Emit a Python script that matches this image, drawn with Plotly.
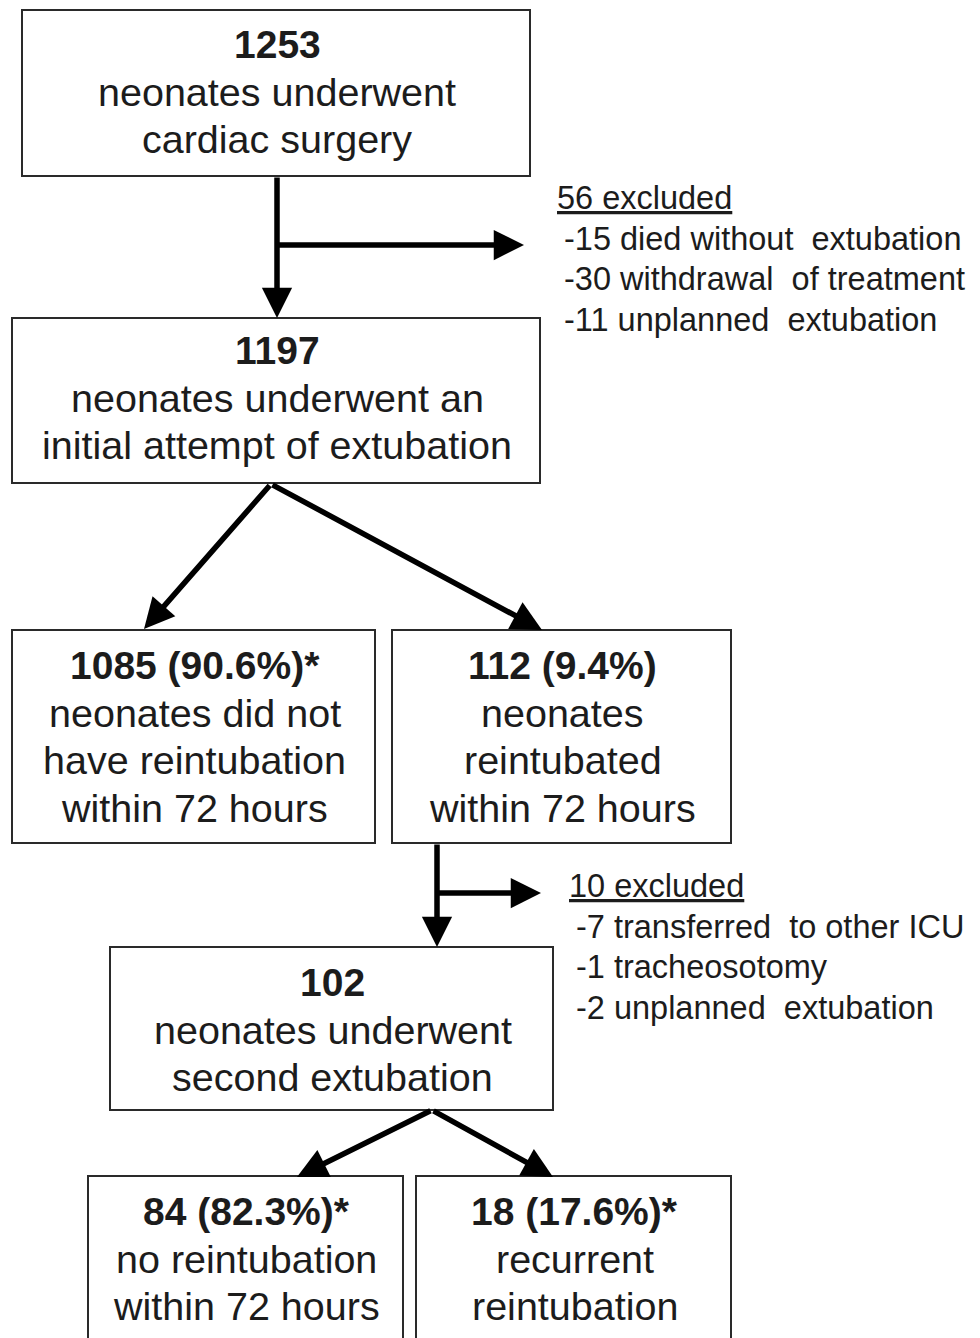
import plotly.graph_objects as go

# ---- data (flowchart content) ----
box_counts = ["1253", "1197", "1085 (90.6%)*", "112 (9.4%)", "102", "84 (82.3%)*", "18 (17.6%)*"]
box_texts = [
    ["neonates underwent", "cardiac surgery"],
    ["neonates underwent an", "initial attempt of extubation"],
    ["neonates did not", "have reintubation", "within 72 hours"],
    ["neonates", "reintubated", "within 72 hours"],
    ["neonates underwent", "second extubation"],
    ["no reintubation", "within 72 hours"],
    ["recurrent", "reintubation"],
]
excl_headers = ["56 excluded", "10 excluded"]
excl_items = [
    ["-15 died without  extubation", "-30 withdrawal  of treatment", "-11 unplanned  extubation"],
    ["-7 transferred  to other ICU", "-1 tracheosotomy", "-2 unplanned  extubation"],
]

# ---- layout (pixel geometry) ----
boxes = [  # x0, y0, x1, y1, first-line center y
    (22, 10, 530, 176, 44),
    (12, 318, 540, 483, 350),
    (12, 630, 375, 843, 665),
    (392, 630, 731, 843, 665),
    (110, 947, 553, 1110, 982),
    (88, 1176, 403, 1360, 1211),
    (416, 1176, 731, 1360, 1211),
]
line_step = 47.5
excl_pos = [(555, 562, 198), (567, 574, 886)]
excl_step = 40.7

arrows = [  # tail x, tail y, tip x, tip y
    (277, 176, 277, 318),
    (277, 245, 524, 245),
    (271, 484, 144, 629),
    (271, 484, 542, 630),
    (437, 843, 437, 947),
    (437, 893, 541, 893),
    (432, 1110, 297, 1177),
    (432, 1110, 553, 1177),
]

FONT = "Liberation Sans, Arial, sans-serif"
TXT = "#1c1c1c"
OFF = 8  # page body margin

fig = go.Figure()
fig.add_trace(go.Scatter(x=[OFF, 980 + OFF], y=[OFF, 1338 + OFF], mode="markers",
                         marker=dict(opacity=0), hoverinfo="skip", showlegend=False))

shapes = []
annotations = []
for (x0, y0, x1, y1, ty), cnt, lines in zip(boxes, box_counts, box_texts):
    shapes.append(dict(type="rect", xref="x", yref="y", x0=x0, y0=y0, x1=x1, y1=y1,
                       line=dict(color="#2a2a2a", width=2), fillcolor="white", layer="below"))
    cx = (x0 + x1) / 2 + 1
    annotations.append(dict(x=cx, y=ty, xref="x", yref="y", text="<b>" + cnt + "</b>",
                            showarrow=False, xanchor="center", yanchor="middle",
                            font=dict(family=FONT, size=39, color=TXT)))
    for i, t in enumerate(lines):
        annotations.append(dict(x=cx, y=ty + (i + 1) * line_step, xref="x", yref="y", text=t,
                                showarrow=False, xanchor="center", yanchor="middle",
                                font=dict(family=FONT, size=39.5, color=TXT)))

for (hx, ix, hy), head, items in zip(excl_pos, excl_headers, excl_items):
    annotations.append(dict(x=hx, y=hy, xref="x", yref="y", text="<u>" + head + "</u>",
                            showarrow=False, xanchor="left", yanchor="middle",
                            font=dict(family=FONT, size=32.5, color=TXT)))
    for i, t in enumerate(items):
        annotations.append(dict(x=ix, y=hy + (i + 1) * excl_step, xref="x", yref="y", text=t,
                                showarrow=False, xanchor="left", yanchor="middle",
                                font=dict(family=FONT, size=32.5, color=TXT)))

for tx, ty_, hx, hy in arrows:
    annotations.append(dict(x=hx, y=hy, ax=tx, ay=ty_, xref="x", yref="y",
                            axref="x", ayref="y", text="", showarrow=True,
                            arrowhead=2, arrowsize=1.1, arrowwidth=5.5,
                            arrowcolor="black", standoff=0, startstandoff=0))

fig.update_layout(
    width=980, height=1338,
    margin=dict(l=0, r=0, t=0, b=0),
    paper_bgcolor="white", plot_bgcolor="white",
    xaxis=dict(range=[OFF, 980 + OFF], visible=False, fixedrange=True),
    yaxis=dict(range=[1338 + OFF, OFF], visible=False, fixedrange=True),
    shapes=shapes, annotations=annotations, showlegend=False,
)
fig.write_html("out.html")
